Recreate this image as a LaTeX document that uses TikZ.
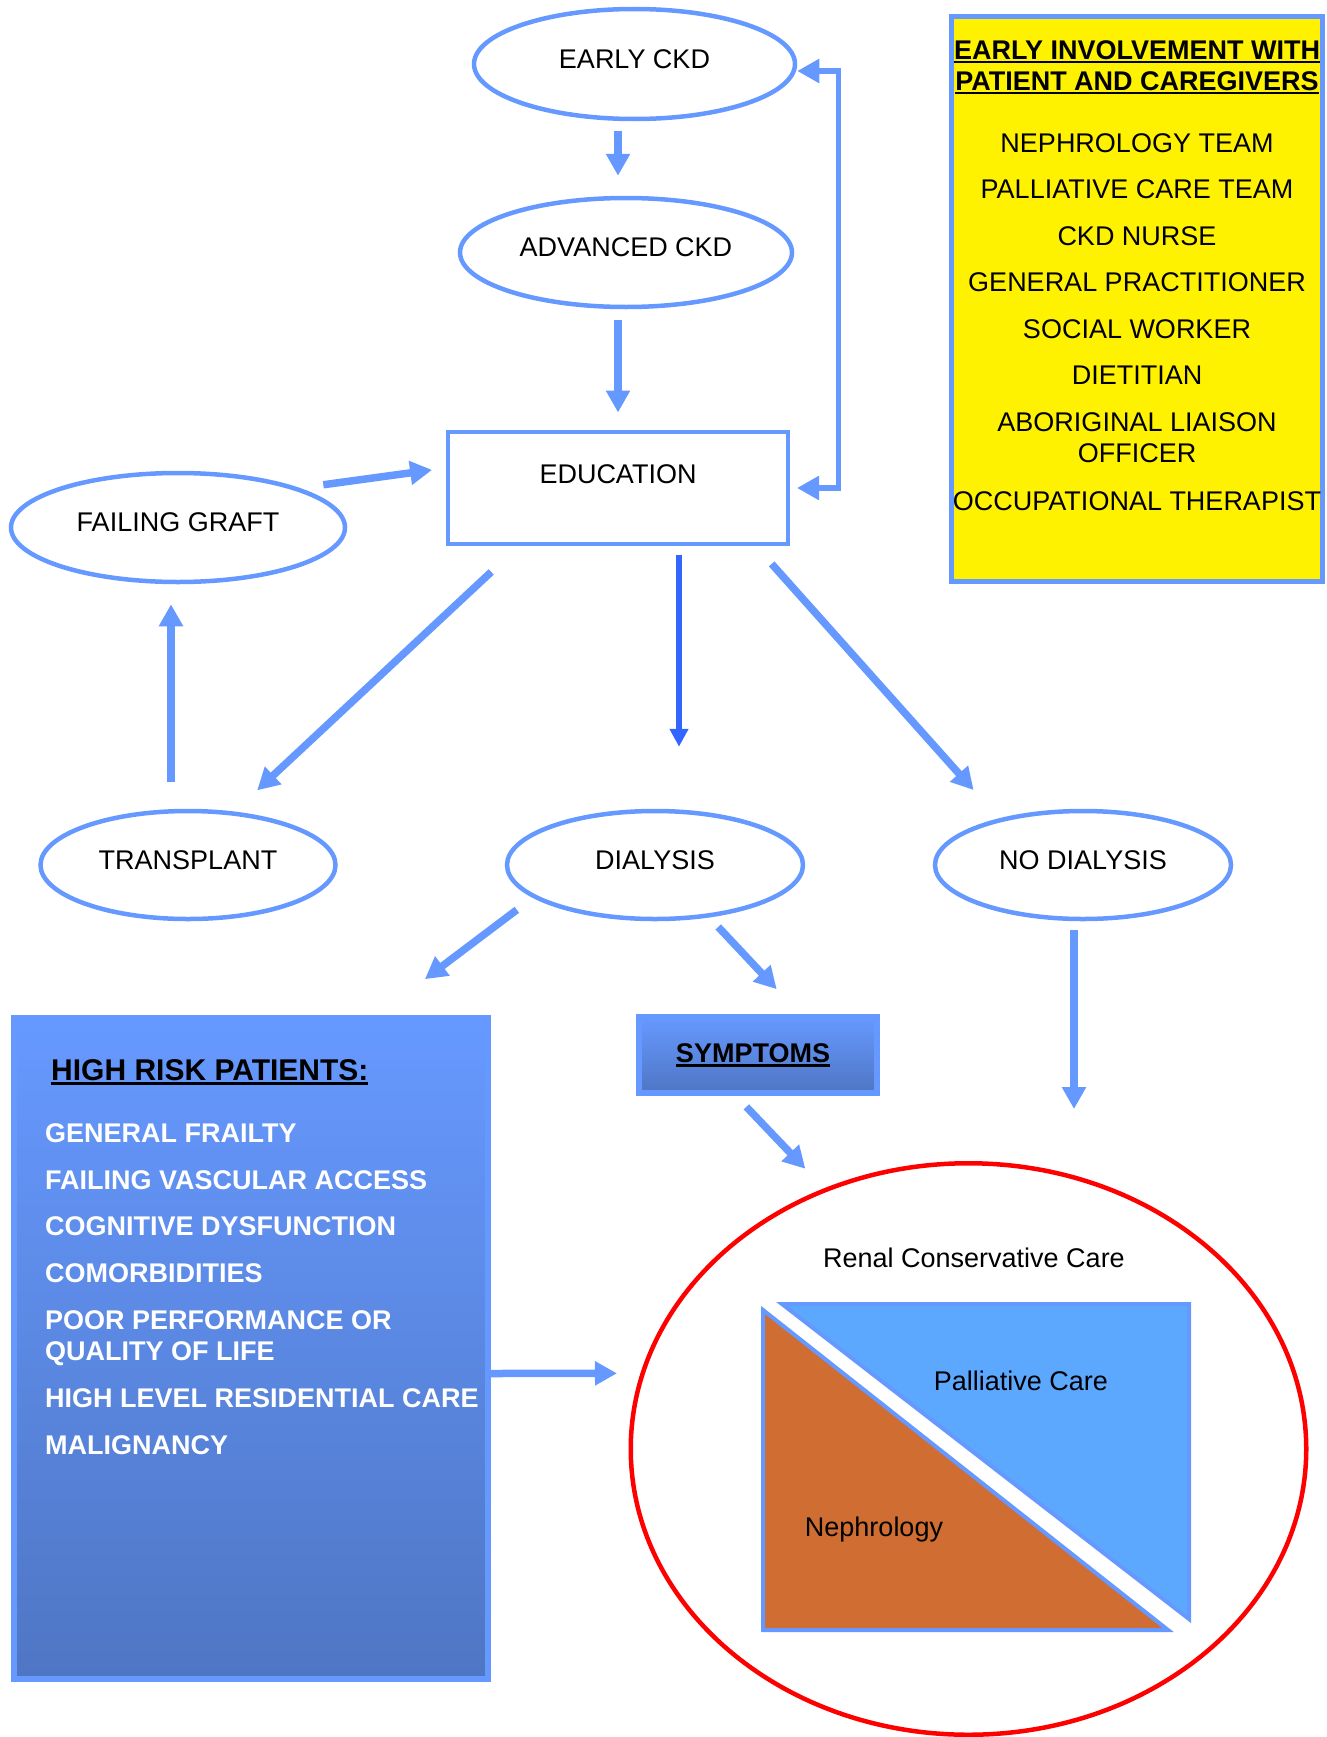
\documentclass[tikz,border=0pt]{standalone}
\usepackage{fontspec}
\setmainfont{Liberation Sans}
\usetikzlibrary{arrows.meta,positioning,shapes.geometric}
\definecolor{ckdblue}{RGB}{102,153,255}
\definecolor{dialblue}{RGB}{51,102,255}
\definecolor{shadetop}{RGB}{102,153,255}
\definecolor{shadebot}{RGB}{79,118,196}
\definecolor{nephro}{RGB}{207,109,50}
\definecolor{palli}{RGB}{92,168,255}
\newcommand{\hdr}[2][2.5pt]{\leavevmode\vtop{\hbox{#2}\kern1.5pt\hrule height #1}}

\begin{document}
\begin{tikzpicture}[x=1pt,y=-1pt,>={Triangle[width=23pt,length=22pt]},font=\fontsize{27}{31}\selectfont,
  stage/.style={ellipse,draw=ckdblue,line width=4.5pt,inner sep=0pt,text depth=10pt},
  arr/.style={->,color=ckdblue,line width=7.5pt},
  panel/.style={rectangle,draw=ckdblue,line width=6pt,top color=shadetop,bottom color=shadebot}]
  \useasboundingbox (0,0) rectangle (1327,1737);

  \node[stage,minimum width=321pt,minimum height=110pt] (early) at (634.5,64) {EARLY CKD};
  \node[stage,minimum width=332pt,minimum height=109pt] (adv) at (626,252.5) {ADVANCED CKD};
  \node[draw=ckdblue,line width=4pt,inner sep=0pt,minimum width=340pt,minimum height=112pt,text depth=28pt] (edu) at (618,488) {EDUCATION};
  \node[stage,minimum width=334pt,minimum height=109pt] (fail) at (178,527.5) {FAILING GRAFT};
  \node[stage,minimum width=295pt,minimum height=108pt] (trans) at (188,865) {TRANSPLANT};
  \node[stage,minimum width=296pt,minimum height=108pt] (dial) at (655,865) {DIALYSIS};
  \node[stage,minimum width=296pt,minimum height=108pt] (nodial) at (1083,865) {NO DIALYSIS};

  % team box
  \node[draw=ckdblue,line width=5pt,fill=yellow,minimum width=371pt,minimum height=565pt] (team) at (1137,299) {};
  \node[below=26pt of team.north,align=center,inner sep=0pt] (teamlist)
    {\textbf{\hdr{EARLY INVOLVEMENT WITH}}\\ \textbf{\hdr{PATIENT AND CAREGIVERS}}\\[31pt]
     NEPHROLOGY TEAM\\[15.5pt] PALLIATIVE CARE TEAM\\[15.5pt] CKD NURSE\\[15.5pt]
     GENERAL PRACTITIONER\\[15.5pt] SOCIAL WORKER\\[15.5pt] DIETITIAN\\[15.5pt]
     ABORIGINAL LIAISON\\ OFFICER\\[17pt] OCCUPATIONAL THERAPIST};

  % high risk box
  \node[panel,minimum width=474pt,minimum height=661pt] (hr) at (251,1348.5) {};
  \node[below right=44pt and 34pt of hr.north west,align=left,inner sep=0pt,text=white,
        font=\fontsize{27}{31}\selectfont\bfseries] (hrlist)
    {\hspace*{6pt}\textcolor{black}{\fontsize{30}{31}\selectfont\hdr[3pt]{HIGH RISK PATIENTS:}}\\[31pt]
     GENERAL FRAILTY\\[15.9pt] FAILING VASCULAR ACCESS\\[15.9pt] COGNITIVE DYSFUNCTION\\[15.9pt]
     COMORBIDITIES\\[15.9pt] POOR PERFORMANCE OR\\ QUALITY OF LIFE\\[15.9pt]
     HIGH LEVEL RESIDENTIAL CARE\\[15.9pt] MALIGNANCY};

  \node[panel,minimum width=238pt,minimum height=76pt,font=\fontsize{27}{31}\selectfont\bfseries] (sym) at (758,1055) {\hdr[3pt]{SYMPTOMS}\hspace*{10pt}};

  % conservative care
  \node[ellipse,draw=red,line width=4.5pt,minimum width=675.5pt,minimum height=571.5pt] (rcc) at (968.5,1449) {};
  \node[anchor=base] (rcclabel) at (974,1267.5) {Renal Conservative Care};
  \filldraw[fill=nephro,draw=ckdblue,line width=4pt] (763,1310) -- (763,1630) -- (1168,1630) -- cycle;
  \filldraw[fill=palli,draw=ckdblue,line width=4pt] (782,1304) -- (1189,1304) -- (1189,1619) -- cycle;
  \node[anchor=base] (palli) at (1021,1390.5) {Palliative Care};
  \node[anchor=base] (neph) at (874,1536) {Nephrology};

  \draw[<->,color=ckdblue,line width=5.5pt,shorten >=7pt] ([yshift=-7pt]early.east) -- ++(41,0) |- (edu.east);

  \path[arr]
    (early.south -| edu.north) edge[shorten <=10pt,shorten >=20pt] (adv.north -| edu.north)
    (adv.south -| edu.north) edge[shorten <=11pt,shorten >=17.5pt] (edu.north)
    (fail.18) edge[shorten <=24pt,shorten >=14pt] ([yshift=20pt]edu.west)
    ([xshift=-17pt]trans.north) edge[shorten <=27pt,shorten >=20pt] ([xshift=-7pt]fail.south)
    ([xshift=-99pt]edu.south) edge[shorten <=38pt,shorten >=31pt] (trans.49)
    ([xshift=61pt]edu.south) edge[dialblue,line width=6pt,>={Triangle[width=18pt,length=18pt]},shorten <=9pt,shorten >=62pt] ([xshift=24pt]dial.north)
    ([xshift=137.7pt]edu.south) edge[shorten <=24pt,shorten >=38pt] (nodial.151.5)
    (dial.195) edge[shorten <=20pt,shorten >=59.5pt] ([xshift=126.4pt]hr.north)
    (dial.316) edge[shorten <=13pt,shorten >=34pt] ([xshift=42pt]sym.north)
    ([xshift=-9pt]nodial.south) edge[shorten <=9pt,shorten >=52pt] ([xshift=105.5pt]rcc.north)
    ([xshift=-22pt]sym.south) edge[shorten <=15pt,shorten >=27pt] (rcc.119.6)
    ([yshift=-25pt]hr.east) edge[shorten >=23.5pt] (rcc.167);
\end{tikzpicture}
\end{document}
